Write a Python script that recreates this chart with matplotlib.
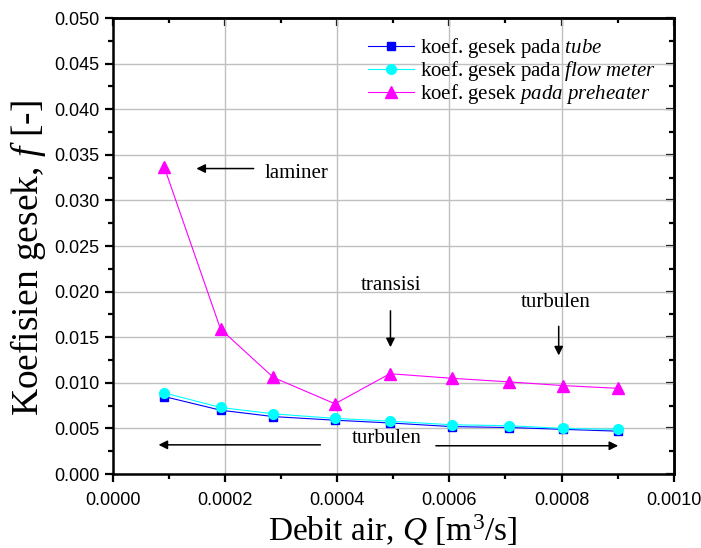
import matplotlib
matplotlib.use('Agg')
import matplotlib.pyplot as plt
from matplotlib.ticker import MultipleLocator, FormatStrFormatter

plt.rcParams['font.family'] = 'Liberation Serif'
plt.rcParams['mathtext.fontset'] = 'custom'
plt.rcParams['mathtext.rm'] = 'Liberation Serif'
plt.rcParams['mathtext.it'] = 'Liberation Serif:italic'

# data
debit = [0.0000914, 0.000192, 0.000286, 0.000396, 0.000494, 0.000604, 0.000707, 0.000802, 0.0009]
f_tube = [0.0085, 0.0070, 0.0063, 0.0059, 0.0056, 0.0052, 0.0051, 0.0049, 0.0047]
f_flow = [0.0089, 0.0073, 0.0066, 0.0061, 0.0058, 0.0054, 0.0053, 0.0050, 0.0049]
f_pre = [0.0337, 0.0159, 0.0106, 0.0077, 0.0110, 0.0105, 0.0101, 0.0097, 0.0094]

labels = [r'koef. gesek pada $\it{tube}$',
          r'koef. gesek pada $\it{flow\ meter}$',
          r'koef. gesek $\it{pada\ preheater}$']

fig = plt.figure(figsize=(7.01, 5.48), dpi=100)
ax = fig.add_axes([0.161, 0.135, 0.800, 0.832])

ax.plot(debit, f_tube, color='#0000ff', lw=0.8, marker='s', ms=6, label=labels[0])
ax.plot(debit, f_flow, color='#00ffff', lw=0.8, marker='o', ms=7, label=labels[1])
ax.plot(debit, f_pre, color='#ff00ff', lw=0.8, marker='^', ms=8, label=labels[2])

ax.set_xlim(0, 0.001)
ax.set_ylim(0, 0.05)
ax.xaxis.set_major_locator(MultipleLocator(0.0002))
ax.xaxis.set_minor_locator(MultipleLocator(0.0001))
ax.yaxis.set_major_locator(MultipleLocator(0.005))
ax.yaxis.set_minor_locator(MultipleLocator(0.0025))
ax.xaxis.set_major_formatter(FormatStrFormatter('%.4f'))
ax.yaxis.set_major_formatter(FormatStrFormatter('%.3f'))
ax.grid(True, which='major', color='#c0c0c0', lw=1)
ax.set_axisbelow(True)
for s in ax.spines.values():
    s.set_linewidth(1.8)
ax.tick_params(which='major', direction='out', length=6, width=1.6, labelsize=13)
ax.tick_params(which='minor', direction='out', length=3.5, width=1.6)
ax.tick_params(axis='x', pad=7)
for lab in ax.get_xticklabels() + ax.get_yticklabels():
    lab.set_family('Liberation Sans')

# mirrored ticks on top and right, pointing inward
top = ax.secondary_xaxis('top')
top.xaxis.set_major_locator(MultipleLocator(0.0002))
top.xaxis.set_minor_locator(MultipleLocator(0.0001))
top.tick_params(which='major', direction='in', length=6, width=1.6, labeltop=False)
top.tick_params(which='minor', direction='in', length=3.5, width=1.6)
right = ax.secondary_yaxis('right')
right.yaxis.set_major_locator(MultipleLocator(0.005))
right.yaxis.set_minor_locator(MultipleLocator(0.0025))
right.tick_params(which='major', direction='in', length=6, width=1.6, labelright=False)
right.tick_params(which='minor', direction='in', length=3.5, width=1.6)
for s in list(top.spines.values()) + list(right.spines.values()):
    s.set_linewidth(1.8)

ax.set_xlabel(r'Debit air, $\it{Q}$ [m$^3$/s]', fontsize=24, va='baseline')
ax.xaxis.set_label_coords(0.5, -0.146)
ax.set_ylabel(r'Koefisien gesek, $\it{f}$ [-]', fontsize=27, va='center')
ax.yaxis.set_label_coords(-0.152, 0.474)

ax.legend(loc='upper left', bbox_to_anchor=(0.44, 0.978), frameon=False,
          fontsize=15, handlelength=2.2, handletextpad=0.3, labelspacing=-0.05,
          borderaxespad=0)

arr = dict(arrowstyle='-|>', color='black', lw=1.1, mutation_scale=13)
ax.annotate('', xy=(0.000144, 0.0335), xytext=(0.000256, 0.0335), arrowprops=arr)
ax.text(0.000328, 0.0330, 'laminer', fontsize=15, ha='center', va='center')
ax.annotate('', xy=(0.000495, 0.0136), xytext=(0.000495, 0.0182), arrowprops=arr)
ax.text(0.000496, 0.0207, 'transisi', fontsize=15, ha='center', va='center')
ax.annotate('', xy=(0.000795, 0.0127), xytext=(0.000795, 0.0165), arrowprops=arr)
ax.text(0.00079, 0.0188, 'turbulen', fontsize=15, ha='center', va='center')
ax.annotate('', xy=(0.0000765, 0.0032), xytext=(0.000375, 0.0032), arrowprops=arr)
ax.annotate('', xy=(0.000906, 0.0031), xytext=(0.000571, 0.0031), arrowprops=arr)
ax.text(0.000489, 0.0039, 'turbulen', fontsize=15, ha='center', va='center')

fig.savefig('out.png', dpi=100)
